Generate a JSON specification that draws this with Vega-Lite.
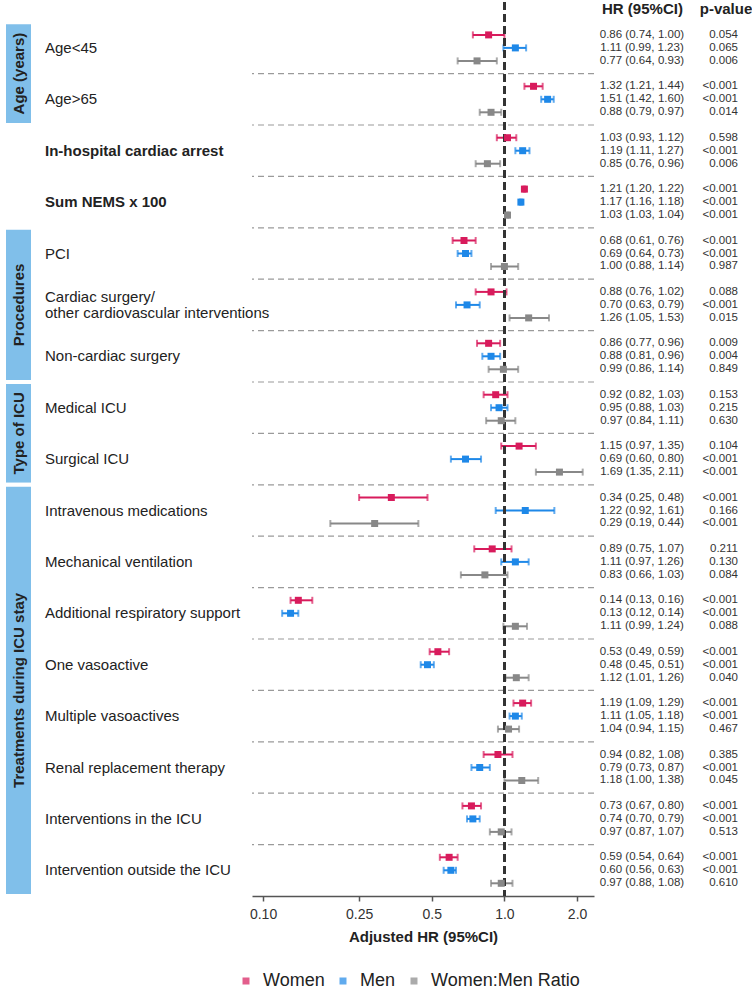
{
  "$schema": "https://vega.github.io/schema/vega-lite/v6.json",
  "padding": {"left": 2, "top": 0, "right": 0, "bottom": 0},
  "bounds": "flush",
  "spacing": 0,
  "config": {
    "font": "Liberation Sans",
    "view": {"stroke": null},
    "axisBottom": {"labelFontSize": 14, "labelColor": "#333333", "tickSize": 5, "tickColor": "#555555", "tickWidth": 1.5, "domainColor": "#555555", "domainWidth": 1.5, "labelPadding": 6, "titleFontSize": 15, "titleFontWeight": "bold", "titleColor": "#222222", "titlePadding": 8, "grid": false},
    "axisTop": {"labelFontSize": 15, "labelFontWeight": "bold", "labelColor": "#222222", "labelAngle": 0, "ticks": false, "tickSize": 0, "domain": false, "grid": false, "labelPadding": -6, "labelBaseline": "alphabetic", "title": null}
  },
  "resolve": {"legend": {"color": "independent"}},
  "datasets": {
    "groups": [
      {"g": "Age (years)", "start": 0, "end": 2},
      {"g": "Procedures", "start": 4, "end": 7},
      {"g": "Type of ICU", "start": 7, "end": 9},
      {"g": "Treatments during ICU stay", "start": 9, "end": 17}
    ],
    "vars": [
      {"v": "Age<45", "label": "Age<45", "bold": false},
      {"v": "Age>65", "label": "Age>65", "bold": false},
      {"v": "In-hospital cardiac arrest", "label": "In-hospital cardiac arrest", "bold": true},
      {"v": "Sum NEMS x 100", "label": "Sum NEMS x 100", "bold": true},
      {"v": "PCI", "label": "PCI", "bold": false},
      {"v": "Cardiac surgery", "label": "Cardiac surgery/\n other cardiovascular interventions", "bold": false},
      {"v": "Non-cardiac surgery", "label": "Non-cardiac surgery", "bold": false},
      {"v": "Medical ICU", "label": "Medical ICU", "bold": false},
      {"v": "Surgical ICU", "label": "Surgical ICU", "bold": false},
      {"v": "Intravenous medications", "label": "Intravenous medications", "bold": false},
      {"v": "Mechanical ventilation", "label": "Mechanical ventilation", "bold": false},
      {"v": "Additional respiratory support", "label": "Additional respiratory support", "bold": false},
      {"v": "One vasoactive", "label": "One vasoactive", "bold": false},
      {"v": "Multiple vasoactives", "label": "Multiple vasoactives", "bold": false},
      {"v": "Renal replacement therapy", "label": "Renal replacement therapy", "bold": false},
      {"v": "Interventions in the ICU", "label": "Interventions in the ICU", "bold": false},
      {"v": "Intervention outside the ICU", "label": "Intervention outside the ICU", "bold": false}
    ],
    "hr": [
      {"v": "Age<45", "s": "Women", "hr": 0.86, "lo": 0.74, "hi": 1.00, "p": "0.054"},
      {"v": "Age<45", "s": "Men", "hr": 1.11, "lo": 0.99, "hi": 1.23, "p": "0.065"},
      {"v": "Age<45", "s": "Women:Men Ratio", "hr": 0.77, "lo": 0.64, "hi": 0.93, "p": "0.006"},
      {"v": "Age>65", "s": "Women", "hr": 1.32, "lo": 1.21, "hi": 1.44, "p": "<0.001"},
      {"v": "Age>65", "s": "Men", "hr": 1.51, "lo": 1.42, "hi": 1.60, "p": "<0.001"},
      {"v": "Age>65", "s": "Women:Men Ratio", "hr": 0.88, "lo": 0.79, "hi": 0.97, "p": "0.014"},
      {"v": "In-hospital cardiac arrest", "s": "Women", "hr": 1.03, "lo": 0.93, "hi": 1.12, "p": "0.598"},
      {"v": "In-hospital cardiac arrest", "s": "Men", "hr": 1.19, "lo": 1.11, "hi": 1.27, "p": "<0.001"},
      {"v": "In-hospital cardiac arrest", "s": "Women:Men Ratio", "hr": 0.85, "lo": 0.76, "hi": 0.96, "p": "0.006"},
      {"v": "Sum NEMS x 100", "s": "Women", "hr": 1.21, "lo": 1.20, "hi": 1.22, "p": "<0.001"},
      {"v": "Sum NEMS x 100", "s": "Men", "hr": 1.17, "lo": 1.16, "hi": 1.18, "p": "<0.001"},
      {"v": "Sum NEMS x 100", "s": "Women:Men Ratio", "hr": 1.03, "lo": 1.03, "hi": 1.04, "p": "<0.001"},
      {"v": "PCI", "s": "Women", "hr": 0.68, "lo": 0.61, "hi": 0.76, "p": "<0.001"},
      {"v": "PCI", "s": "Men", "hr": 0.69, "lo": 0.64, "hi": 0.73, "p": "<0.001"},
      {"v": "PCI", "s": "Women:Men Ratio", "hr": 1.00, "lo": 0.88, "hi": 1.14, "p": "0.987"},
      {"v": "Cardiac surgery", "s": "Women", "hr": 0.88, "lo": 0.76, "hi": 1.02, "p": "0.088"},
      {"v": "Cardiac surgery", "s": "Men", "hr": 0.70, "lo": 0.63, "hi": 0.79, "p": "<0.001"},
      {"v": "Cardiac surgery", "s": "Women:Men Ratio", "hr": 1.26, "lo": 1.05, "hi": 1.53, "p": "0.015"},
      {"v": "Non-cardiac surgery", "s": "Women", "hr": 0.86, "lo": 0.77, "hi": 0.96, "p": "0.009"},
      {"v": "Non-cardiac surgery", "s": "Men", "hr": 0.88, "lo": 0.81, "hi": 0.96, "p": "0.004"},
      {"v": "Non-cardiac surgery", "s": "Women:Men Ratio", "hr": 0.99, "lo": 0.86, "hi": 1.14, "p": "0.849"},
      {"v": "Medical ICU", "s": "Women", "hr": 0.92, "lo": 0.82, "hi": 1.03, "p": "0.153"},
      {"v": "Medical ICU", "s": "Men", "hr": 0.95, "lo": 0.88, "hi": 1.03, "p": "0.215"},
      {"v": "Medical ICU", "s": "Women:Men Ratio", "hr": 0.97, "lo": 0.84, "hi": 1.11, "p": "0.630"},
      {"v": "Surgical ICU", "s": "Women", "hr": 1.15, "lo": 0.97, "hi": 1.35, "p": "0.104"},
      {"v": "Surgical ICU", "s": "Men", "hr": 0.69, "lo": 0.60, "hi": 0.80, "p": "<0.001"},
      {"v": "Surgical ICU", "s": "Women:Men Ratio", "hr": 1.69, "lo": 1.35, "hi": 2.11, "p": "<0.001"},
      {"v": "Intravenous medications", "s": "Women", "hr": 0.34, "lo": 0.25, "hi": 0.48, "p": "<0.001"},
      {"v": "Intravenous medications", "s": "Men", "hr": 1.22, "lo": 0.92, "hi": 1.61, "p": "0.166"},
      {"v": "Intravenous medications", "s": "Women:Men Ratio", "hr": 0.29, "lo": 0.19, "hi": 0.44, "p": "<0.001"},
      {"v": "Mechanical ventilation", "s": "Women", "hr": 0.89, "lo": 0.75, "hi": 1.07, "p": "0.211"},
      {"v": "Mechanical ventilation", "s": "Men", "hr": 1.11, "lo": 0.97, "hi": 1.26, "p": "0.130"},
      {"v": "Mechanical ventilation", "s": "Women:Men Ratio", "hr": 0.83, "lo": 0.66, "hi": 1.03, "p": "0.084"},
      {"v": "Additional respiratory support", "s": "Women", "hr": 0.14, "lo": 0.13, "hi": 0.16, "p": "<0.001"},
      {"v": "Additional respiratory support", "s": "Men", "hr": 0.13, "lo": 0.12, "hi": 0.14, "p": "<0.001"},
      {"v": "Additional respiratory support", "s": "Women:Men Ratio", "hr": 1.11, "lo": 0.99, "hi": 1.24, "p": "0.088"},
      {"v": "One vasoactive", "s": "Women", "hr": 0.53, "lo": 0.49, "hi": 0.59, "p": "<0.001"},
      {"v": "One vasoactive", "s": "Men", "hr": 0.48, "lo": 0.45, "hi": 0.51, "p": "<0.001"},
      {"v": "One vasoactive", "s": "Women:Men Ratio", "hr": 1.12, "lo": 1.01, "hi": 1.26, "p": "0.040"},
      {"v": "Multiple vasoactives", "s": "Women", "hr": 1.19, "lo": 1.09, "hi": 1.29, "p": "<0.001"},
      {"v": "Multiple vasoactives", "s": "Men", "hr": 1.11, "lo": 1.05, "hi": 1.18, "p": "<0.001"},
      {"v": "Multiple vasoactives", "s": "Women:Men Ratio", "hr": 1.04, "lo": 0.94, "hi": 1.15, "p": "0.467"},
      {"v": "Renal replacement therapy", "s": "Women", "hr": 0.94, "lo": 0.82, "hi": 1.08, "p": "0.385"},
      {"v": "Renal replacement therapy", "s": "Men", "hr": 0.79, "lo": 0.73, "hi": 0.87, "p": "<0.001"},
      {"v": "Renal replacement therapy", "s": "Women:Men Ratio", "hr": 1.18, "lo": 1.00, "hi": 1.38, "p": "0.045"},
      {"v": "Interventions in the ICU", "s": "Women", "hr": 0.73, "lo": 0.67, "hi": 0.80, "p": "<0.001"},
      {"v": "Interventions in the ICU", "s": "Men", "hr": 0.74, "lo": 0.70, "hi": 0.79, "p": "<0.001"},
      {"v": "Interventions in the ICU", "s": "Women:Men Ratio", "hr": 0.97, "lo": 0.87, "hi": 1.07, "p": "0.513"},
      {"v": "Intervention outside the ICU", "s": "Women", "hr": 0.59, "lo": 0.54, "hi": 0.64, "p": "<0.001"},
      {"v": "Intervention outside the ICU", "s": "Men", "hr": 0.60, "lo": 0.56, "hi": 0.63, "p": "<0.001"},
      {"v": "Intervention outside the ICU", "s": "Women:Men Ratio", "hr": 0.97, "lo": 0.88, "hi": 1.08, "p": "0.610"}
    ]
  },
  "hconcat": [
    {
      "width": 29,
      "height": 894,
      "data": {"name": "groups"},
      "transform": [{"calculate": "(datum.start + datum.end) / 2", "as": "mid"}],
      "layer": [
        {
          "mark": {"type": "rect", "fill": "#80BFEA", "stroke": "white", "strokeWidth": 4},
          "encoding": {
            "y": {"field": "start", "type": "quantitative", "scale": {"domain": [-0.393, 17], "reverse": true, "nice": false, "zero": false}, "axis": null},
            "y2": {"field": "end"}
          }
        },
        {
          "mark": {"type": "text", "angle": 270, "fontSize": 15, "fontWeight": "bold", "color": "#222222", "align": "center", "baseline": "middle"},
          "encoding": {
            "y": {"field": "mid", "type": "quantitative", "axis": null},
            "text": {"field": "g"}
          }
        }
      ]
    },
    {
      "width": 219,
      "height": 894,
      "data": {"name": "vars"},
      "layer": [
        {
          "transform": [{"filter": "!datum.bold && datum.v != 'Cardiac surgery'"}],
          "mark": {"type": "text", "align": "left", "baseline": "middle", "dx": 12, "fontSize": 15, "color": "#222222"},
          "encoding": {
            "x": {"datum": 0, "type": "quantitative", "scale": {"domain": [0, 1]}, "axis": null},
            "y": {"field": "v", "type": "nominal", "scale": {"type": "band", "domain": ["Age<45","Age>65","In-hospital cardiac arrest","Sum NEMS x 100","PCI","Cardiac surgery","Non-cardiac surgery","Medical ICU","Surgical ICU","Intravenous medications","Mechanical ventilation","Additional respiratory support","One vasoactive","Multiple vasoactives","Renal replacement therapy","Interventions in the ICU","Intervention outside the ICU"], "paddingInner": 0, "paddingOuter": 0.1965, "align": 1}, "axis": null},
            "text": {"field": "label"}
          }
        },
        {
          "transform": [{"filter": "datum.v == 'Cardiac surgery'"}],
          "mark": {"type": "text", "align": "left", "baseline": "middle", "dx": 12, "dy": -8, "fontSize": 15, "color": "#222222", "lineBreak": "\n", "lineHeight": 16},
          "encoding": {
            "x": {"datum": 0, "type": "quantitative", "axis": null},
            "y": {"field": "v", "type": "nominal", "axis": null},
            "text": {"field": "label"}
          }
        },
        {
          "transform": [{"filter": "datum.bold"}],
          "mark": {"type": "text", "align": "left", "baseline": "middle", "dx": 12, "fontSize": 15, "fontWeight": "bold", "color": "#222222"},
          "encoding": {
            "x": {"datum": 0, "type": "quantitative", "axis": null},
            "y": {"field": "v", "type": "nominal", "axis": null},
            "text": {"field": "label"}
          }
        }
      ]
    },
    {
      "width": 342,
      "height": 894,
      "layer": [
        {
          "data": {"name": "vars"},
          "transform": [{"filter": "datum.v != 'Age<45'"}],
          "mark": {"type": "rule", "color": "#9A9A9A", "strokeDash": [6, 4], "strokeWidth": 1.2},
          "encoding": {
            "y": {"field": "v", "type": "nominal", "bandPosition": 0, "scale": {"type": "band", "domain": ["Age<45","Age>65","In-hospital cardiac arrest","Sum NEMS x 100","PCI","Cardiac surgery","Non-cardiac surgery","Medical ICU","Surgical ICU","Intravenous medications","Mechanical ventilation","Additional respiratory support","One vasoactive","Multiple vasoactives","Renal replacement therapy","Interventions in the ICU","Intervention outside the ICU"], "paddingInner": 0, "paddingOuter": 0.1965, "align": 1}, "axis": null}
          }
        },
        {
          "data": {"name": "hr"},
          "mark": {"type": "rule", "strokeWidth": 2},
          "encoding": {
            "x": {"field": "lo", "type": "quantitative", "title": "Adjusted HR (95%CI)", "scale": {"type": "log", "domain": [0.09, 2.35], "nice": false}, "axis": {"values": [0.1, 0.25, 0.5, 1, 2], "labelExpr": "datum.value == 0.1 ? '0.10' : datum.value == 0.25 ? '0.25' : datum.value == 0.5 ? '0.5' : format(datum.value, '.1f')"}},
            "x2": {"field": "hi"},
            "y": {"field": "v", "type": "nominal", "axis": null},
            "yOffset": {"field": "s", "type": "nominal", "scale": {"type": "point", "domain": ["Women", "Men", "Women:Men Ratio"], "padding": 0.977}},
            "color": {"field": "s", "type": "nominal", "scale": {"domain": ["Women", "Men", "Women:Men Ratio"], "range": ["#D81B5C", "#1E88E8", "#888888"]}}
          }
        },
        {
          "data": {"name": "hr"},
          "mark": {"type": "tick", "size": 7, "thickness": 2, "orient": "vertical"},
          "encoding": {
            "x": {"field": "lo", "type": "quantitative", "title": "Adjusted HR (95%CI)"},
            "y": {"field": "v", "type": "nominal", "axis": null},
            "yOffset": {"field": "s", "type": "nominal"},
            "color": {"field": "s", "type": "nominal"}
          }
        },
        {
          "data": {"name": "hr"},
          "mark": {"type": "tick", "size": 7, "thickness": 2, "orient": "vertical"},
          "encoding": {
            "x": {"field": "hi", "type": "quantitative", "title": "Adjusted HR (95%CI)"},
            "y": {"field": "v", "type": "nominal", "axis": null},
            "yOffset": {"field": "s", "type": "nominal"},
            "color": {"field": "s", "type": "nominal"}
          }
        },
        {
          "data": {"name": "hr"},
          "mark": {"type": "rule", "color": "#333333", "strokeDash": [8, 4], "strokeWidth": 2.5},
          "encoding": {
            "x": {"datum": 1, "type": "quantitative", "title": "Adjusted HR (95%CI)"}
          }
        },
        {
          "data": {"name": "hr"},
          "mark": {"type": "square", "size": 49, "opacity": 1, "filled": true},
          "encoding": {
            "x": {"field": "hr", "type": "quantitative", "title": "Adjusted HR (95%CI)"},
            "y": {"field": "v", "type": "nominal", "axis": null},
            "yOffset": {"field": "s", "type": "nominal"},
            "color": {"field": "s", "type": "nominal", "legend": {"title": null, "orient": "none", "legendX": -15, "legendY": 970, "direction": "horizontal", "symbolType": "square", "symbolSize": 30, "labelFontSize": 18, "labelColor": "#222222", "labelOffset": 8, "columnPadding": 9}}
          }
        }
      ]
    },
    {
      "width": 160,
      "height": 894,
      "data": {"name": "hr"},
      "transform": [{"calculate": "format(datum.hr, '.2f') + ' (' + format(datum.lo, '.2f') + ', ' + format(datum.hi, '.2f') + ')'", "as": "ci"}],
      "layer": [
        {
          "mark": {"type": "text", "align": "center", "baseline": "middle", "fontSize": 11.5, "color": "#333333"},
          "encoding": {
            "x": {"datum": "HR (95%CI)", "type": "nominal", "scale": {"type": "point", "domain": ["HR (95%CI)", "p-value"], "padding": 0.458, "align": 0.627}, "axis": {"orient": "top", "labelAngle": 0, "labelAlign": "center"}},
            "y": {"field": "v", "type": "nominal", "scale": {"type": "band", "domain": ["Age<45","Age>65","In-hospital cardiac arrest","Sum NEMS x 100","PCI","Cardiac surgery","Non-cardiac surgery","Medical ICU","Surgical ICU","Intravenous medications","Mechanical ventilation","Additional respiratory support","One vasoactive","Multiple vasoactives","Renal replacement therapy","Interventions in the ICU","Intervention outside the ICU"], "paddingInner": 0, "paddingOuter": 0.1965, "align": 1}, "axis": null},
            "yOffset": {"field": "s", "type": "nominal", "scale": {"type": "point", "domain": ["Women", "Men", "Women:Men Ratio"], "padding": 0.977}},
            "text": {"field": "ci"}
          }
        },
        {
          "mark": {"type": "text", "align": "right", "baseline": "middle", "fontSize": 11.5, "color": "#333333", "dx": 12.5},
          "encoding": {
            "x": {"datum": "p-value", "type": "nominal"},
            "y": {"field": "v", "type": "nominal", "axis": null},
            "yOffset": {"field": "s", "type": "nominal"},
            "text": {"field": "p"}
          }
        }
      ]
    }
  ]
}
